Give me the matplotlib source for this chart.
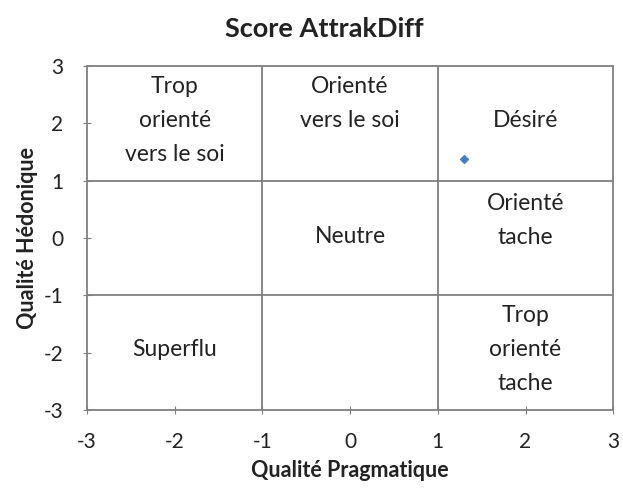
import matplotlib
matplotlib.use("Agg")
import matplotlib.pyplot as plt

plt.rcParams['font.family'] = ['Lato', 'DejaVu Sans']
plt.rcParams['axes.unicode_minus'] = False

# score point
pragmatique = [1.3]
hedonique = [1.38]

# quadrant labels
zone_labels = ["Trop\norienté\nvers le soi", "Orienté\nvers le soi", "Désiré",
               "Neutre", "Orienté\ntache", "Superflu", "Trop\norienté\ntache"]
zone_x = [-2, 0, 2, 0, 2, -2, 2]
zone_y = [2.05, 2.35, 2.05, 0.02, 0.3, -1.95, -1.95]

ticks = [-3, -2, -1, 0, 1, 2, 3]

fig = plt.figure(figsize=(6.23, 4.88), dpi=100)
ax = fig.add_axes([0.1396, 0.160, 0.8447, 0.705])

grey = "#7f7f7f"
txt = "#222222"
for v in [-1, 1]:
    ax.axvline(v, color=grey, lw=1.3)
    ax.axhline(v, color=grey, lw=1.3)

ax.scatter(pragmatique, hedonique, marker="D", s=16, color="#4a7ebb", zorder=3)

for lab, x, y in zip(zone_labels, zone_x, zone_y):
    ax.text(x, y, lab, ha="center", va="center", fontsize=16.5,
            linespacing=1.75, color=txt)

ax.set_xlim(-3, 3)
ax.set_ylim(-3, 3)
ax.set_xticks(ticks)
ax.set_yticks(ticks)
ax.tick_params(direction="inout", length=6, color=grey, labelsize=15,
               labelcolor=txt)
ax.tick_params(axis="x", pad=13)
ax.tick_params(axis="y", pad=14)
for s in ax.spines.values():
    s.set_color(grey)
    s.set_linewidth(1.3)

ax.set_xlabel("Qualité Pragmatique", fontsize=15.5, fontweight="bold",
              labelpad=6, color=txt)
ax.set_ylabel("Qualité Hédonique", fontsize=15.5, fontweight="bold",
              labelpad=4, color=txt)
fig.suptitle("Score AttrakDiff", fontsize=19.5, fontweight="bold",
             x=0.52, y=0.965, color=txt)

fig.savefig("out.png", dpi=100)
